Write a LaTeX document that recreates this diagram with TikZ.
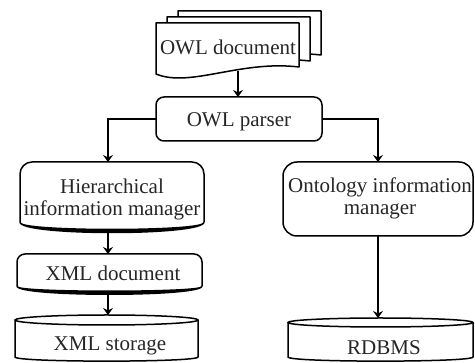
\documentclass[tikz,border=0pt]{standalone}
\usepackage{fontspec}
\setmainfont{Liberation Serif}
\usetikzlibrary{arrows.meta}
\begin{document}
\begin{tikzpicture}[x=1pt,y=-1pt,
  shapeline/.style={line width=1.5pt, fill=white, line join=round},
  conn/.style={line width=1.1pt, -{Stealth[length=7pt,width=10pt,inset=2.5pt]}},
  box/.style n args={2}{inner sep=0pt, outer sep=0pt, minimum width=#1, minimum height=#2},
  txt/.style={font=\fontsize{21pt}{22pt}\selectfont, text=black!85, inner sep=0pt, align=center},
]
\useasboundingbox (0,0) rectangle (475,363);

% stacked OWL document sheets (back to front)
\foreach \dx/\dy in {22/-12, 11/-6, 0/0} {
  \begin{scope}[shift={(\dx,\dy)}]
    \filldraw[shapeline] (156,23) -- (299,23) -- (299,67)
      .. controls (240,60) and (190,88) .. (156,74) -- cycle;
  \end{scope}
}
\node[txt, anchor=base] (owldoctext) at (228,55) {OWL document};
\coordinate (docbot) at (238,71);

% OWL parser
\node[box={166pt}{44pt}, draw, shapeline, rounded corners=8pt] (parser) at (239,119) {};
\node[txt, anchor=base] (parsertext) at (239,126.5) {OWL parser};

% hierarchical information manager
\node[box={184pt}{68pt}] (him) at (112,196) {};
\filldraw[shapeline] (204,174) .. controls (204,167.4) and (198.6,162) .. (192,162)
  -- (32,162) .. controls (25.4,162) and (20,167.4) .. (20,174)
  -- (20,222) .. controls (20,236) and (204,236) .. (204,222) -- cycle;
\fill (20,222) .. controls (20,236) and (204,236) .. (204,222)
  .. controls (204,231) and (20,231) .. cycle;
\node[txt] (himtext) at (112,199.1) {Hierarchical\\information manager};

% XML document
\node[box={185pt}{38pt}] (xmldoc) at (109.5,273) {};
\filldraw[shapeline] (202,262) .. controls (202,257.6) and (198.4,254) .. (194,254)
  -- (25,254) .. controls (20.6,254) and (17,257.6) .. (17,262)
  -- (17,286) .. controls (17,297) and (202,297) .. (202,286) -- cycle;
\fill (17,286) .. controls (17,297) and (202,297) .. (202,286)
  .. controls (202,292) and (17,292) .. cycle;
\node[txt, anchor=base] (xmldoctext) at (113,281) {XML document};

% XML storage
\node[box={183pt}{47pt}] (xmlst) at (106.5,338.5) {};
\filldraw[shapeline] (15,320) -- (15,357) .. controls (15,362.5) and (198,362.5) .. (198,357)
  -- (198,320) -- cycle;
\draw[shapeline] (106.5,320) ellipse [x radius=91.5pt, y radius=5pt];
\node[txt, anchor=base] (xmlsttext) at (110,351) {XML storage};

% ontology information manager
\node[box={190pt}{74pt}, draw, shapeline, rounded corners=14pt] (oim) at (378,199) {};
\node[txt] (oimtext) at (380,198.1) {Ontology information\\manager};

% RDBMS
\node[box={185pt}{44pt}] (rdbms) at (380.5,340) {};
\filldraw[shapeline] (288,322.5) -- (288,357) .. controls (288,362.5) and (473,362.5) .. (473,357)
  -- (473,322.5) -- cycle;
\draw[shapeline] (380.5,322.5) ellipse [x radius=92.5pt, y radius=4.5pt];
\node[txt, anchor=base] (rdbmstext) at (384,355) {RDBMS};

% connectors
\coordinate (lcol) at (108,0);
\draw[conn] (docbot) -- (docbot |- parser.north);
\draw[conn] (parser.west) -| (lcol |- him.north);
\draw[conn] (parser.east) -| (oim.north);
\draw[conn] (lcol |- him.south) -- (lcol |- xmldoc.north);
\draw[conn] (lcol |- xmldoc.south) -- (lcol |- xmlst.north);
\draw[conn] (oim.south) -- (oim.south |- rdbms.north);
\end{tikzpicture}
\end{document}
